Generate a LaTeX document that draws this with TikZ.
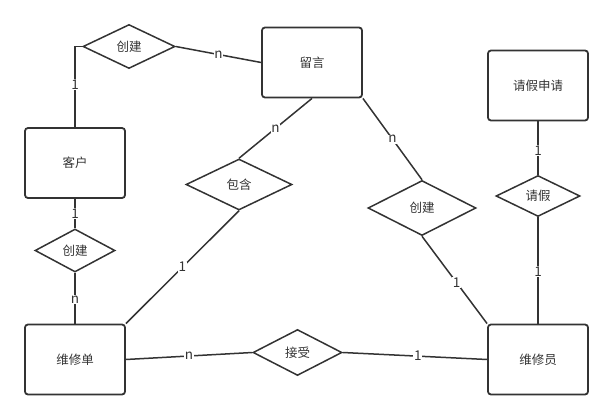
\documentclass[tikz,border=0pt]{standalone}
\usepackage{fontspec}
\setmainfont{Noto Sans CJK SC}
\usetikzlibrary{shapes.geometric}
\definecolor{ink}{HTML}{333333}
\begin{document}
\begin{tikzpicture}[x=1pt,y=-1pt,
  entity/.style={draw=ink, line width=1.8pt, rounded corners=3pt,
    minimum width=100pt, minimum height=70pt, inner sep=0pt,
    text=ink, font=\fontsize{12.5}{14}\selectfont},
  relation/.style={draw=ink, line width=1.5pt, shape=diamond, inner sep=0pt,
    text=ink, font=\fontsize{12.5}{14}\selectfont},
  link/.style={draw=ink, line width=1.5pt},
  card/.style={fill=white, inner sep=0.8pt, text=ink,
    font=\fontsize{13.5}{14}\selectfont},
  cardpos/.style={card, pos=#1}]
\useasboundingbox (0,0) rectangle (613,420);

% entities
\node[entity] (ly)  at (312,62.5)  {留言};
\node[entity] (kh)  at (75,163)    {客户};
\node[entity] (qjsq) at (538,85.5) {请假申请};
\node[entity] (wxd) at (75,359.5)  {维修单};
\node[entity] (wxy) at (538,359.5) {维修员};

% relationships
\node[relation, minimum width=92pt,  minimum height=44pt] (cj1) at (129,46.5)   {创建};
\node[relation, minimum width=106pt, minimum height=51pt] (bh)  at (239,184.5)  {包含};
\node[relation, minimum width=108pt, minimum height=55pt] (cj2) at (422,208)    {创建};
\node[relation, minimum width=84pt,  minimum height=41pt] (qj)  at (538,196)    {请假};
\node[relation, minimum width=80pt,  minimum height=43pt] (cj3) at (75,250.5)   {创建};
\node[relation, minimum width=89pt,  minimum height=46pt] (js)  at (297.5,352.5) {接受};

% connectors with cardinalities
\draw[link] (kh.north) |- (cj1.west) node[cardpos=0.265] {1};
\draw[link] (cj1.east) -- (ly.west) node[cardpos=0.5] {n};
\draw[link] (bh.north) -- (ly.south) node[cardpos=0.5] {n};
\draw[link] (bh.south) -- (wxd.north east) node[cardpos=0.5] {1};
\draw[link] (cj2.north) -- (ly.south east) node[cardpos=0.5] {n};
\draw[link] (cj2.south) -- (wxy.north west) node[cardpos=0.53] {1};
\draw[link] (qjsq.south) -- (qj.north) node[cardpos=0.54] {1};
\draw[link] (qj.south) -- (wxy.north) node[cardpos=0.51] {1};
\draw[link] (kh.south) -- (cj3.north) node[cardpos=0.5] {1};
\draw[link] (cj3.south) -- (wxd.north) node[cardpos=0.53] {n};
\draw[link] (wxd.east) -- (js.west) node[cardpos=0.5] {n};
\draw[link] (js.east) -- (wxy.west) node[cardpos=0.52] {1};
\end{tikzpicture}
\end{document}
